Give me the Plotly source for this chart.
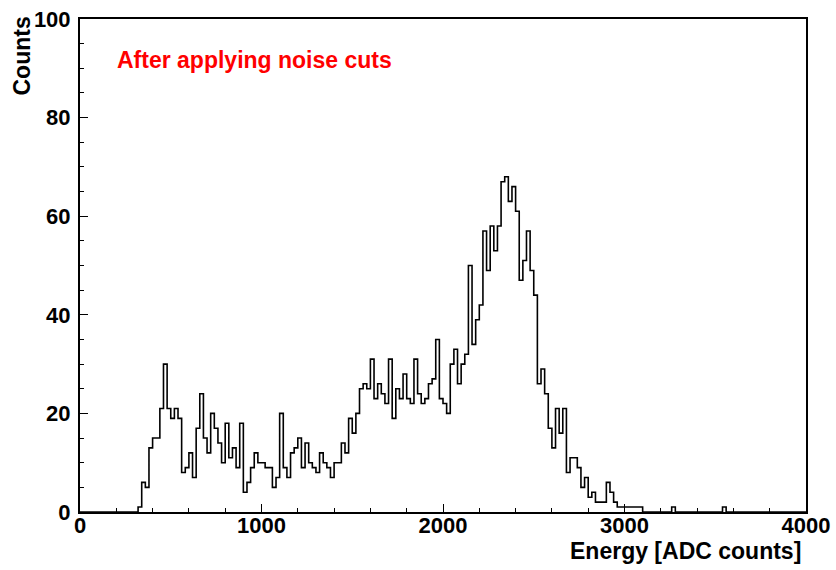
import plotly.graph_objects as go

# Histogram definition (ROOT-style TH1, 200 bins from 0 to 4000)
x_min = 0
x_max = 4000
bin_width = 20
first_bin_low = 320  # lower edge of the first non-empty bin

# Counts per bin starting at first_bin_low (bins of 20 ADC counts)
counts = [
    1, 6, 5, 13, 15, 15, 21, 30, 21, 19, 21, 19, 8, 9, 12, 7, 17, 24,       # 320-679
    15, 12, 20, 17, 14, 10, 18, 11, 13, 9, 18, 4, 6, 9, 12, 10, 10, 9,      # 680-1039
    9, 5, 7, 20, 9, 7, 12, 13, 15, 9, 14, 10, 9, 8, 12, 10, 9, 7,           # 1040-1399
    10, 10, 14, 12, 19, 16, 20, 25, 26, 25, 31, 23, 26, 24, 22, 31, 19, 25, # 1400-1759
    23, 28, 23, 22, 31, 24, 22, 23, 26, 27, 35, 23, 22, 20, 30, 33, 26, 30, # 1760-2119
    32, 50, 34, 39, 42, 57, 49, 58, 53, 58, 67, 68, 63, 66, 61, 47, 51, 57, # 2120-2479
    49, 44, 26, 29, 24, 17, 13, 21, 16, 21, 8, 11, 11, 9, 5, 7, 3, 4,       # 2480-2839
    2, 2, 2, 6, 4, 2, 1, 1, 1, 1, 1, 1, 1, 0, 0, 0, 0, 0,                   # 2840-3199
    0, 0, 0, 1, 0, 0, 0, 0, 0, 0, 0, 0, 0, 0, 0, 0, 0, 1,                   # 3200-3559
]

x_ticks = [0, 1000, 2000, 3000, 4000]
y_ticks = [0, 20, 40, 60, 80, 100]
y_max = 100

x_title = "Energy [ADC counts]"
y_title = "Counts"
label_text = "After applying noise cuts"

# Build full bin array and step outline
n_bins = (x_max - x_min) // bin_width
first_idx = (first_bin_low - x_min) // bin_width
full = [0] * n_bins
for i, c in enumerate(counts):
    full[first_idx + i] = c
edges = [x_min + i * bin_width for i in range(n_bins + 1)]
ys = full + [full[-1]]

font_family = "Liberation Sans, Arial, Helvetica, sans-serif"

fig = go.Figure()
fig.add_trace(go.Scatter(
    x=edges, y=ys, mode="lines", line=dict(shape="hv", color="black", width=1.6),
    hoverinfo="skip", showlegend=False,
))

fig.update_layout(
    width=836, height=570,
    margin=dict(l=80, r=30, t=19, b=58, autoexpand=False),
    paper_bgcolor="white", plot_bgcolor="white",
    font=dict(family=font_family, size=22, color="black", weight="bold"),
    showlegend=False,
)
fig.update_xaxes(
    range=[x_min, x_max], tickvals=x_ticks, ticks="inside", ticklen=8, tickwidth=1.2,
    tickcolor="black", showgrid=False, zeroline=False, automargin=False,
    showline=True, linecolor="black", linewidth=2, mirror=True,
    tickfont=dict(family=font_family, size=22, weight="bold"),
    minor=dict(dtick=200, ticks="inside", ticklen=4, tickwidth=1, tickcolor="black", showgrid=False),
    ticklabelstandoff=-7,
)
fig.update_yaxes(
    range=[0, y_max], tickvals=y_ticks, ticks="inside", ticklen=8, tickwidth=1.2,
    tickcolor="black", showgrid=False, zeroline=False, automargin=False,
    showline=True, linecolor="black", linewidth=2, mirror=True,
    tickfont=dict(family=font_family, size=22, weight="bold"),
    minor=dict(dtick=5, ticks="inside", ticklen=4, tickwidth=1, tickcolor="black", showgrid=False),
    ticklabelstandoff=3,
)

fig.add_annotation(
    text=x_title, xref="paper", yref="paper", x=0.996, y=-0.079,
    xanchor="right", yanchor="middle", showarrow=False,
    font=dict(family=font_family, size=23, weight="bold", color="black"),
)
fig.add_annotation(
    text=y_title, xref="paper", yref="paper", x=-0.08, y=1.01, textangle=-90,
    xanchor="center", yanchor="top", showarrow=False,
    font=dict(family=font_family, size=23, weight="bold", color="black"),
)
fig.add_annotation(
    text=label_text, xref="paper", yref="paper", x=0.048, y=0.917,
    xanchor="left", yanchor="middle", showarrow=False,
    font=dict(family=font_family, size=23, weight="bold", color="red"),
)

fig.write_html("out.html")
